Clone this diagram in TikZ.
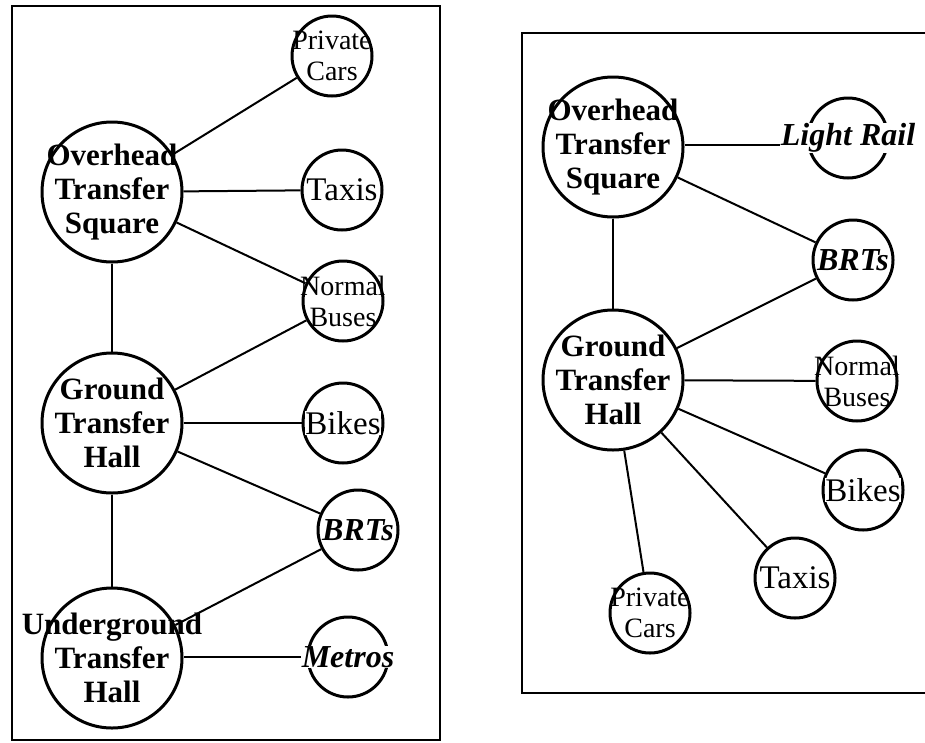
\documentclass[tikz,border=0pt]{standalone}
\usepackage{fontspec}
\setmainfont{Liberation Serif}
\usetikzlibrary{positioning,backgrounds}

\begin{document}
\begin{tikzpicture}[x=1pt, y=-1pt,
    hub/.style={draw, circle, line width=3pt, minimum size=140pt, inner sep=0pt},
    modecirc/.style={draw, circle, line width=3pt, minimum size=80pt, inner sep=0pt},
    hubtxt/.style={align=center, inner sep=0pt, font=\bfseries\fontsize{31}{34}\selectfont},
    twotxt/.style={align=center, inner sep=0pt, font=\fontsize{28}{31}\selectfont},
    onetxt/.style={fill=white, inner sep=0.5pt, font=\fontsize{33}{34}\selectfont},
    ittxt/.style={onetxt, font=\bfseries\itshape\fontsize{32}{34}\selectfont},
    conn/.style={line width=2pt},
    frame/.style={line width=2.5pt}
]
    \useasboundingbox (0,0) rectangle (925,742);
    % left panel
    \draw[frame] (12,6) rectangle (440,740);
    \node[hub, label={[hubtxt]center:Overhead\\Transfer\\Square}] (lots) at (112,192) {};
    \node[hub, label={[hubtxt]center:Ground\\Transfer\\Hall}] (lgth) at (112,423) {};
    \node[hub, label={[hubtxt]center:Underground\\Transfer\\Hall}] (luth) at (112,658) {};
    \node[modecirc, label={[twotxt]center:Private\\Cars}] (lcar) at (332,56) {};
    \node[modecirc, label={[onetxt]center:Taxis}] (ltaxi) at (342,190) {};
    \node[modecirc, label={[twotxt]center:Normal\\Buses}] (lbus) at (343,301) {};
    \node[modecirc, label={[onetxt]center:Bikes}] (lbike) at (343,423) {};
    \node[modecirc, label={[ittxt]center:BRTs}] (lbrt) at (358,530) {};
    \node[modecirc, label={[ittxt]center:Metros}] (lmetro) at (348,657) {};
    \begin{scope}[on background layer]
    \draw[conn] (lots) -- (lcar);
    \draw[conn] (lots) -- (ltaxi);
    \draw[conn] (lots) -- (lbus);
    \draw[conn] (lots) -- (lgth);
    \draw[conn] (lgth) -- (lbus);
    \draw[conn] (lgth) -- (lbike);
    \draw[conn] (lgth) -- (lbrt);
    \draw[conn] (lgth) -- (luth);
    \draw[conn] (luth) -- (lbrt);
    \draw[conn] (luth.east |- lmetro) -- (lmetro.west);
    \end{scope}
    % right panel
    \draw[frame] (925,33) -- (522,33) -- (522,693) -- (925,693);
    \node[hub, label={[hubtxt]center:Overhead\\Transfer\\Square}] (rots) at (613,147) {};
    \node[hub, label={[hubtxt]center:Ground\\Transfer\\Hall}] (rgth) at (613,380) {};
    \node[modecirc, label={[ittxt]center:Light Rail}] (rlight) at (848,138) {};
    \node[modecirc, label={[ittxt]center:BRTs}] (rbrt) at (853,260) {};
    \node[modecirc, label={[twotxt]center:Normal\\Buses}] (rbus) at (857,381) {};
    \node[modecirc, label={[onetxt]center:Bikes}] (rbike) at (863,490) {};
    \node[modecirc, label={[onetxt]center:Taxis}] (rtaxi) at (795,578) {};
    \node[modecirc, label={[twotxt]center:Private\\Cars}] (rcar) at (650,613) {};
    \begin{scope}[on background layer]
    \draw[conn] (rots.east |- 0,145) -- (rlight.west |- 0,145);
    \draw[conn] (rots) -- (rbrt);
    \draw[conn] (rots) -- (rgth);
    \draw[conn] (rgth) -- (rbrt);
    \draw[conn] (rgth) -- (rbus);
    \draw[conn] (rgth) -- (rbike);
    \draw[conn] (rgth) -- (rtaxi);
    \draw[conn] (rgth) -- (rcar);
    \end{scope}
\end{tikzpicture}
\end{document}
